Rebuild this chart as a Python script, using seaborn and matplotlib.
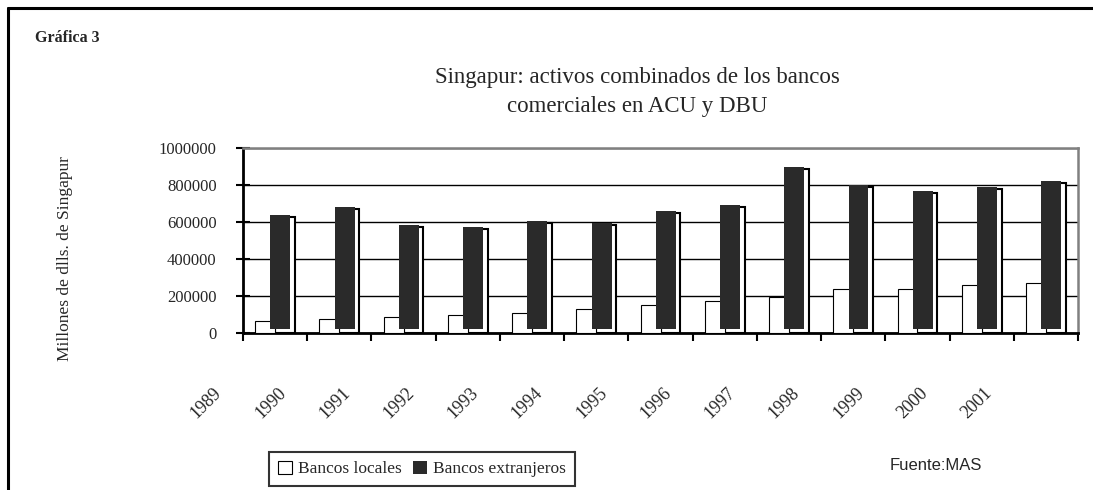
import matplotlib
matplotlib.use("Agg")
import seaborn as sns
import matplotlib.pyplot as plt
import matplotlib.ticker as mticker
import matplotlib.transforms as mtransforms
from matplotlib.patches import Rectangle
from matplotlib.lines import Line2D
import pandas as pd

# datos
anios = ["1989", "1990", "1991", "1992", "1993", "1994", "1995",
         "1996", "1997", "1998", "1999", "2000", "2001"]
bancos_locales = [65000, 76000, 86000, 97000, 108000, 130000, 151000,
                  171000, 193000, 236000, 236000, 258000, 269000]
bancos_extranjeros = [628000, 672000, 573000, 562000, 595000, 585000, 648000,
                      680000, 887000, 790000, 758000, 780000, 812000]
series = ["Bancos locales", "Bancos extranjeros"]

df = pd.DataFrame({
    "anio": anios * 2,
    "serie": [series[0]] * len(anios) + [series[1]] * len(anios),
    "valor": bancos_locales + bancos_extranjeros,
})

sns.set_theme(style="white")
plt.rcParams["font.family"] = ["Liberation Serif", "DejaVu Serif"]

fig = plt.figure(figsize=(10.93, 4.90), dpi=100)
ax = fig.add_axes([243 / 1093, 157 / 490, 835 / 1093, 185 / 490])

sns.barplot(data=df, x="anio", y="valor", hue="serie",
            palette=["white", "#2a2a2a"], width=0.62,
            legend=False, ax=ax, zorder=3)

# barras locales: blancas con borde negro
for p in ax.containers[0]:
    p.set_edgecolor("black")
    p.set_linewidth(0.8)

# barras extranjeras: efecto 3D (contorno blanco detras, barra oscura desplazada)
for p in ax.containers[1]:
    x, w, h = p.get_x(), p.get_width(), p.get_height()
    ax.add_patch(Rectangle((x, 0), w, h, facecolor="white",
                           edgecolor="black", linewidth=1.5, zorder=2.5))
    p.set_x(x - 0.072)
    p.set_y(22000)
    p.set_height(h - 11000)
    p.set_edgecolor("none")

ax.set_ylim(0, 1000000)
ax.set_yticks(range(0, 1000001, 200000))
ax.yaxis.set_major_formatter(mticker.StrMethodFormatter("{x:.0f}"))
ax.set_axisbelow(True)
ax.yaxis.grid(True, color="black", linewidth=1)
ax.xaxis.grid(False)

# marcas del eje x en los limites de categoria; etiquetas desfasadas (como Excel)
ax.set_xticks([i - 0.5 for i in range(len(anios) + 1)])
ax.set_xticklabels(anios + [""], rotation=45, ha="right", va="top", fontsize=13)
ax.set_xlim(-0.5, 12.5)
ax.tick_params(axis="x", bottom=True, direction="out", length=6,
               width=1.5, color="black", pad=0)
ax.tick_params(axis="y", left=True, direction="inout", length=10, width=1.5,
               color="black", pad=14, labelsize=12)
ax.set_xlabel("")
offset = mtransforms.ScaledTranslation(-18 / 100, -43 / 100, fig.dpi_scale_trans)
for t in ax.xaxis.get_major_ticks():
    t.label1.set_transform(t.label1.get_transform() + offset)

ax.set_ylabel("Millones de dlls. de Singapur", fontsize=12.5)
ax.yaxis.set_label_coords(-0.213, 0.40)
ax.yaxis.label.set_va("center")

for s in ["left", "bottom"]:
    ax.spines[s].set_color("black")
    ax.spines[s].set_linewidth(2)
for s in ["top", "right"]:
    ax.spines[s].set_color("#808080")
    ax.spines[s].set_linewidth(1.8)

# marco exterior
fig.add_artist(Line2D([8 / 1093, 1], [1 - 8 / 490, 1 - 8 / 490],
                      color="black", linewidth=2.2, transform=fig.transFigure))
fig.add_artist(Line2D([8 / 1093, 8 / 1093], [0, 1 - 8 / 490],
                      color="black", linewidth=2.2, transform=fig.transFigure))

fig.text(35 / 1093, 1 - 38 / 490, "Gráfica 3", fontsize=11.5, fontweight="bold",
         ha="left", va="center")
fig.text(637 / 1093, 1 - 92 / 490,
         "Singapur: activos combinados de los bancos\ncomerciales en ACU y DBU",
         fontsize=16.5, ha="center", va="center", multialignment="center",
         linespacing=1.55)
fig.text(890 / 1093, 1 - 465 / 490, "Fuente:MAS", fontsize=12,
         family="Liberation Sans", ha="left", va="center")

leg = ax.legend(handles=[ax.containers[0][0], ax.containers[1][0]], labels=series,
                loc="center", bbox_to_anchor=(422 / 1093, 21 / 490),
                bbox_transform=fig.transFigure, ncol=2, fontsize=12.5,
                frameon=True, fancybox=False, handlelength=0.8, handleheight=0.8,
                handletextpad=0.4, columnspacing=0.6, borderpad=0.5)
leg.get_frame().set_edgecolor("black")
leg.get_frame().set_linewidth(1.5)

fig.savefig("out.png", dpi=100)
